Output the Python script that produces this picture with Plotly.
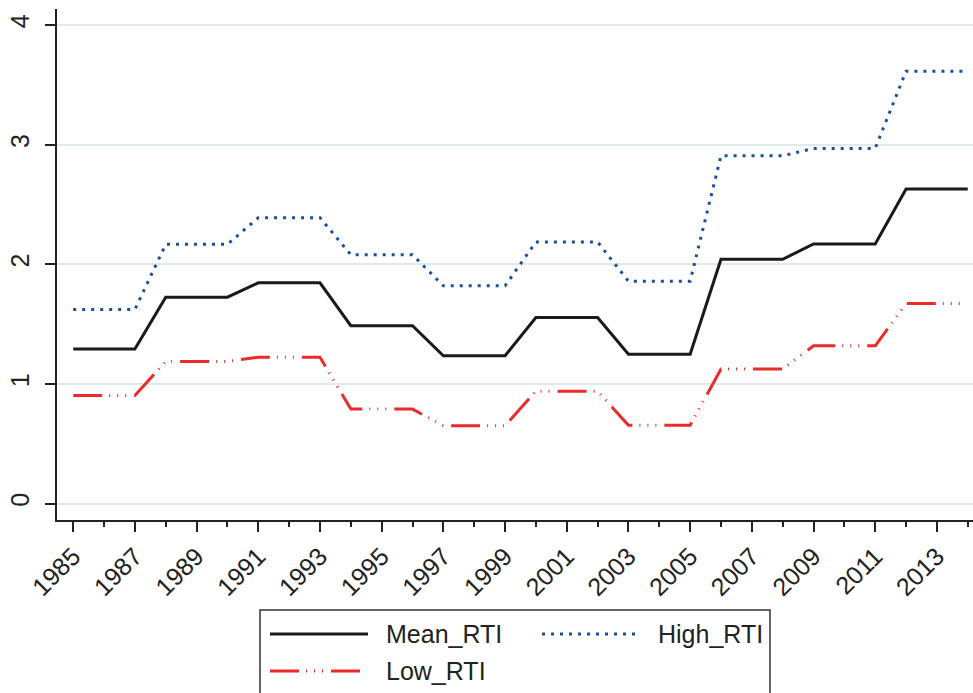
import plotly.graph_objects as go

years = list(range(1985, 2015))
mean_rti = [1.293, 1.293, 1.293, 1.725, 1.725, 1.725, 1.845, 1.845, 1.845,
            1.487, 1.487, 1.487, 1.236, 1.236, 1.236, 1.555, 1.555, 1.555,
            1.248, 1.248, 1.248, 2.042, 2.042, 2.042, 2.170, 2.170, 2.170,
            2.630, 2.630, 2.630]
high_rti = [1.623, 1.623, 1.623, 2.167, 2.167, 2.167, 2.390, 2.390, 2.390,
            2.080, 2.080, 2.080, 1.820, 1.820, 1.820, 2.187, 2.187, 2.187,
            1.859, 1.859, 1.859, 2.907, 2.907, 2.907, 2.969, 2.969, 2.969,
            3.614, 3.614, 3.614]
low_rti = [0.904, 0.904, 0.904, 1.188, 1.188, 1.188, 1.224, 1.224, 1.224,
           0.790, 0.790, 0.790, 0.651, 0.651, 0.651, 0.940, 0.940, 0.940,
           0.654, 0.654, 0.654, 1.125, 1.125, 1.125, 1.319, 1.319, 1.319,
           1.672, 1.672, 1.672]
x_tick_labels = [str(y) for y in range(1985, 2014, 2)]
y_ticks = [0, 1, 2, 3, 4]

BLACK = "#1a1a1a"
BLUE = "#1b4f9c"
RED = "#ec2a2a"
LOW_DASH = "29px,7px,1px,7px,1px,7px,1px,8px"
HIGH_DASH = "3px,6px"
FONT = "Liberation Sans, Arial, sans-serif"

W, H = 973, 693
ML, MR, MT, MB = 57, 0, 9, 173
PW, PH = W - ML - MR, H - MT - MB

def px(x):
    return (x - ML) / PW

def py(y):
    return (H - MB - y) / PH

fig = go.Figure()
fig.add_trace(go.Scatter(x=years, y=mean_rti, mode="lines", name="Mean_RTI",
                         line=dict(color=BLACK, width=3)))
fig.add_trace(go.Scatter(x=years, y=high_rti, mode="lines", name="High_RTI",
                         line=dict(color=BLUE, width=3, dash=HIGH_DASH)))
fig.add_trace(go.Scatter(x=years, y=low_rti, mode="lines", name="Low_RTI",
                         line=dict(color=RED, width=3, dash=LOW_DASH)))

fig.update_layout(
    width=W, height=H,
    margin=dict(l=ML, r=MR, t=MT, b=MB, pad=0),
    paper_bgcolor="white", plot_bgcolor="white",
    showlegend=False,
    font=dict(family=FONT, size=25, color="#222222"),
)
fig.update_xaxes(
    range=[1984.475, 2014.17],
    tickmode="array", tickvals=[int(t) for t in x_tick_labels], ticktext=x_tick_labels,
    tickangle=-45, ticks="outside", ticklen=10, tickwidth=1.5, tickcolor="#222222",
    showline=True, linecolor="#222222", linewidth=1.5,
    showgrid=False, zeroline=False,
    minor=dict(tick0=1985, dtick=1, ticks="outside", ticklen=5, tickwidth=1.5,
               tickcolor="#222222", showgrid=False),
    tickfont=dict(size=25),
)
fig.update_yaxes(
    range=[-0.137, 4.134],
    tickmode="array", tickvals=y_ticks, ticktext=[str(v) for v in y_ticks],
    tickangle=-90, ticks="outside", ticklen=10, tickwidth=1.5, tickcolor="#222222",
    showline=True, linecolor="#222222", linewidth=1.5,
    showgrid=True, gridcolor="#dfeaea", gridwidth=2, zeroline=False,
    ticklabelstandoff=6,
    tickfont=dict(size=25),
)

# Legend box (drawn manually to match the original's long sample lines)
shapes = [dict(type="rect", xref="paper", yref="paper",
               x0=px(260), x1=px(770), y0=py(720), y1=py(610),
               line=dict(color="#333333", width=1.5), fillcolor="rgba(0,0,0,0)")]
legend_items = [
    ("Mean_RTI", BLACK, "solid", 270, 368, 384, 634),
    ("High_RTI", BLUE, HIGH_DASH, 542, 637, 656, 634),
    ("Low_RTI", RED, LOW_DASH, 270, 362, 384, 671),
]
annotations = []
for name, color, dash, lx0, lx1, tx, ty in legend_items:
    shapes.append(dict(type="line", xref="paper", yref="paper",
                       x0=px(lx0), x1=px(lx1), y0=py(ty), y1=py(ty),
                       line=dict(color=color, width=3, dash=dash)))
    annotations.append(dict(xref="paper", yref="paper", x=px(tx), y=py(ty),
                            text=name, showarrow=False, xanchor="left",
                            yanchor="middle", font=dict(size=25, color="#222222")))
fig.update_layout(shapes=shapes, annotations=annotations)

fig.write_html("out.html", config={"displayModeBar": False},
               post_script="document.body.style.margin='0';")
